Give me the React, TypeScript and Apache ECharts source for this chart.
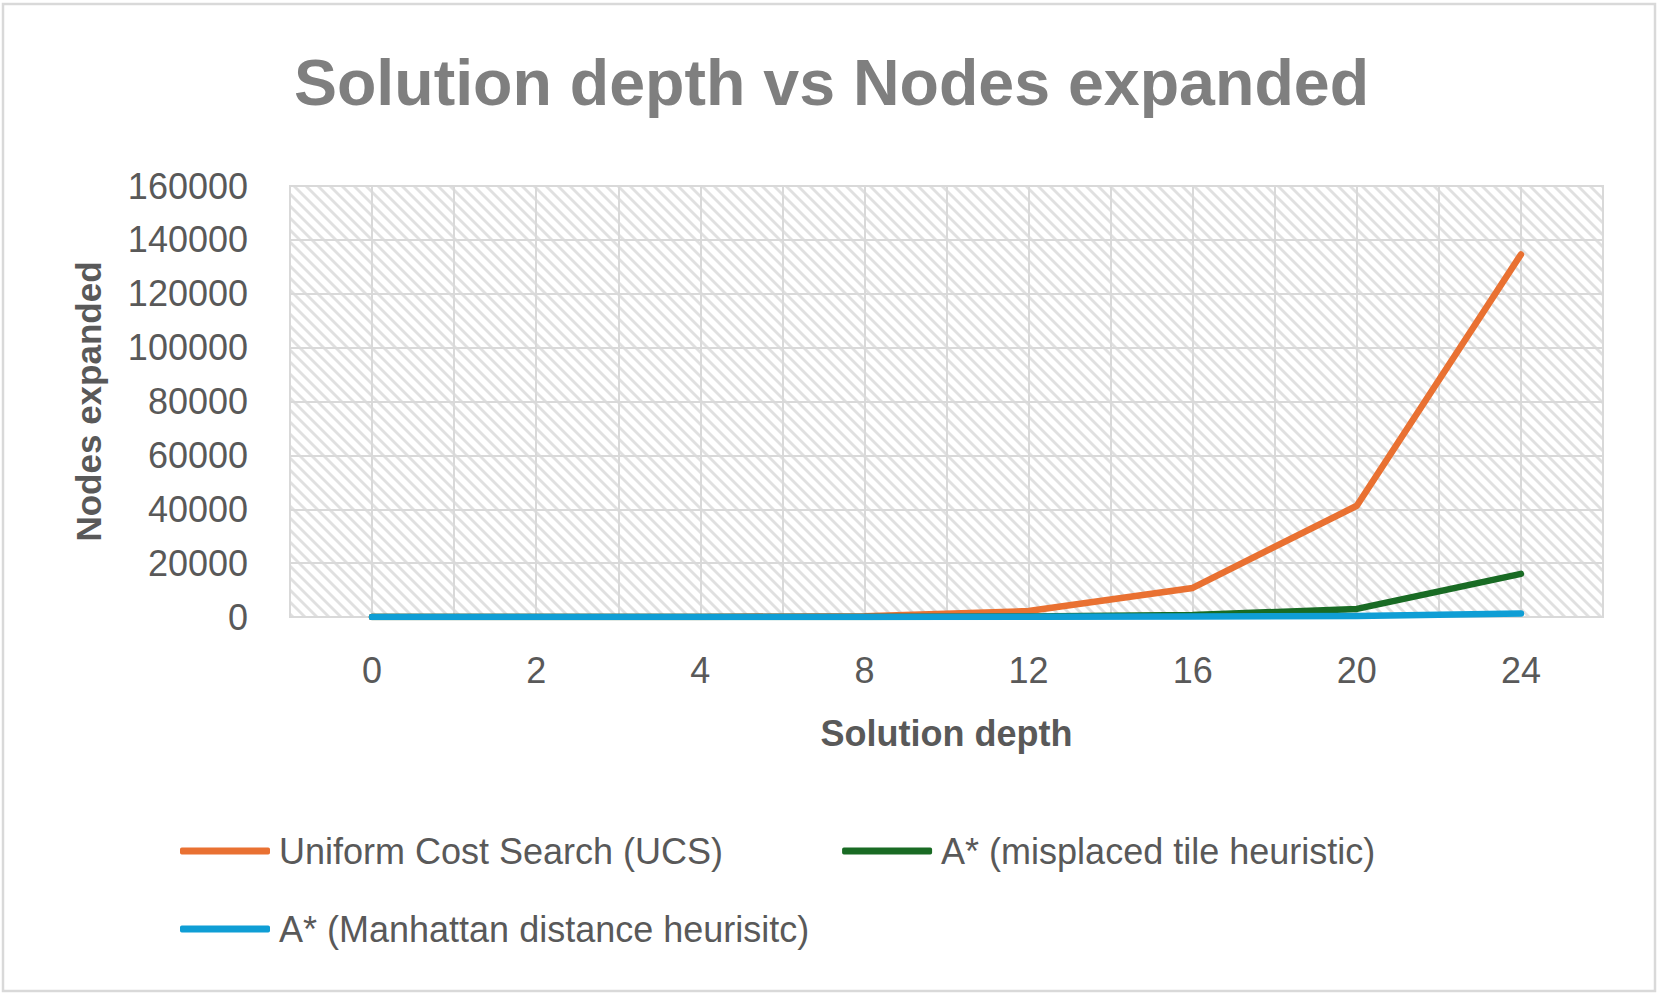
import React, { useEffect, useRef } from "react";
import * as echarts from "echarts";

const depths = ["0", "2", "4", "8", "12", "16", "20", "24"];
const ucsValues = [1, 6, 40, 300, 2200, 10800, 41300, 134600];
const misplacedValues = [1, 3, 10, 40, 200, 700, 3000, 16000];
const manhattanValues = [1, 3, 6, 15, 60, 150, 350, 1300];
const yTicks = { min: 0, max: 160000, interval: 20000 };

const seriesNames = [
  "Uniform Cost Search (UCS)",
  "A* (misplaced tile heuristic)",
  "A* (Manhattan distance heurisitc)",
];
const seriesColors = ["#E97132", "#196B24", "#0F9ED5"];

const FONT = "'Liberation Sans', Arial, sans-serif";
const TXT = "#595959";
const GRIDC = "#D9D9D9";

function makeHatch(): HTMLCanvasElement {
  const c = document.createElement("canvas");
  const s = 12;
  c.width = s;
  c.height = s;
  const ctx = c.getContext("2d")!;
  ctx.fillStyle = "#ffffff";
  ctx.fillRect(0, 0, s, s);
  ctx.strokeStyle = "#E0E0E0";
  ctx.lineWidth = 2.8;
  for (const k of [-s, 0, s]) {
    ctx.beginPath();
    ctx.moveTo(-2 + k, -2);
    ctx.lineTo(s + 2 + k, s + 2);
    ctx.stroke();
  }
  return c;
}

export default function App() {
  const ref = useRef<HTMLDivElement>(null);
  useEffect(() => {
    document.body.style.margin = "0";
    if (!ref.current) return;
    const chart = echarts.init(ref.current, undefined, { renderer: "svg" });
    const hatch = makeHatch();
    const pattern: any = { image: hatch.toDataURL(), repeat: "repeat" };
    const data = [ucsValues, misplacedValues, manhattanValues];
    chart.setOption({
      animation: false,
      backgroundColor: "#ffffff",
      textStyle: { fontFamily: FONT },
      title: {
        text: "Solution depth vs Nodes expanded",
        left: "center",
        top: 50,
        padding: 0,
        textStyle: {
          fontFamily: FONT,
          fontSize: 64.5,
          fontWeight: "bold",
          color: "#7F7F7F",
        },
      },
      graphic: [
        {
          type: "rect",
          shape: { x: 3, y: 4, width: 1652, height: 987 },
          style: { fill: "none", stroke: GRIDC, lineWidth: 2.5 },
          silent: true,
        },
      ],
      grid: {
        left: 290,
        right: 60,
        top: 186,
        bottom: 382,
        show: true,
        backgroundColor: pattern,
        borderColor: GRIDC,
        borderWidth: 2,
      },
      legend: [
        {
          data: seriesNames.slice(0, 2),
          left: 180,
          top: 833,
          padding: 0,
          itemGap: 119,
          itemWidth: 90,
          itemHeight: 7,
          icon: "roundRect",
          textStyle: {
            fontFamily: FONT,
            fontSize: 36,
            color: TXT,
            padding: [0, 0, 0, 4],
          },
        },
        {
          data: seriesNames.slice(2),
          left: 180,
          top: 911,
          padding: 0,
          itemWidth: 90,
          itemHeight: 7,
          icon: "roundRect",
          textStyle: {
            fontFamily: FONT,
            fontSize: 36,
            color: TXT,
            padding: [0, 0, 0, 4],
          },
        },
      ],
      xAxis: [
        {
          type: "category",
          data: depths,
          boundaryGap: true,
          name: "Solution depth",
          nameLocation: "middle",
          nameGap: 98,
          nameTextStyle: {
            fontFamily: FONT,
            fontSize: 36,
            fontWeight: "bold",
            color: TXT,
          },
          axisLine: { show: true, lineStyle: { color: GRIDC, width: 2 } },
          axisTick: { show: false },
          splitLine: { show: false },
          axisLabel: {
            fontFamily: FONT,
            fontSize: 36,
            color: TXT,
            margin: 35,
          },
        },
        {
          type: "value",
          min: 0,
          max: 16,
          interval: 1,
          position: "bottom",
          axisLine: { show: false },
          axisTick: { show: false },
          axisLabel: { show: false },
          splitLine: { show: true, lineStyle: { color: GRIDC, width: 2 } },
        },
      ],
      yAxis: {
        type: "value",
        min: yTicks.min,
        max: yTicks.max,
        interval: yTicks.interval,
        name: "Nodes expanded",
        nameLocation: "middle",
        nameGap: 184,
        nameTextStyle: {
          fontFamily: FONT,
          fontSize: 35,
          fontWeight: "bold",
          color: TXT,
        },
        axisLine: { show: false },
        axisTick: { show: false },
        axisLabel: {
          fontFamily: FONT,
          fontSize: 36,
          color: TXT,
          margin: 42,
          formatter: (v: number) => String(v),
        },
        splitLine: { show: true, lineStyle: { color: GRIDC, width: 2 } },
      },
      series: seriesNames.map((name, i) => ({
        name,
        type: "line",
        xAxisIndex: 0,
        data: data[i],
        symbol: "none",
        color: seriesColors[i],
        lineStyle: {
          color: seriesColors[i],
          width: 6.5,
          cap: "round",
          join: "round",
        },
        z: 10 + i,
      })),
    });
    return () => chart.dispose();
  }, []);
  return <div ref={ref} style={{ width: 1663, height: 999 }} />;
}
